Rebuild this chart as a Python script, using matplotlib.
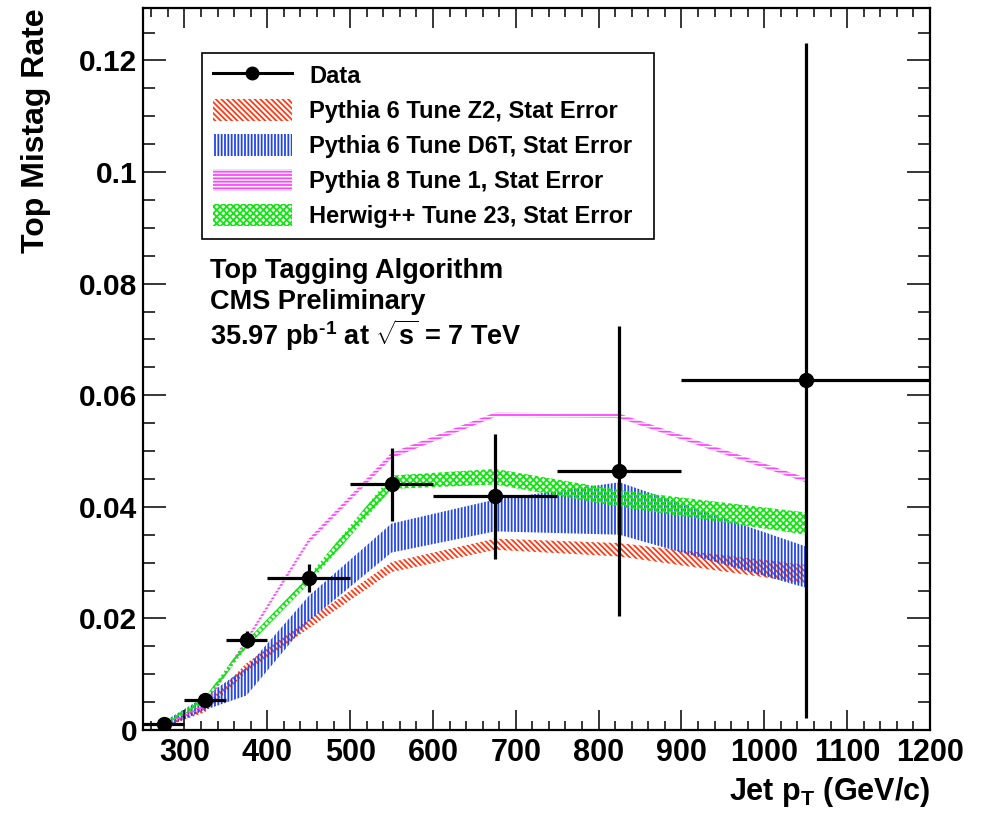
import numpy as np
import matplotlib
matplotlib.use("Agg")
import matplotlib.pyplot as plt
from matplotlib.patches import Patch
from matplotlib.lines import Line2D
from matplotlib.ticker import MultipleLocator, FuncFormatter

plt.rcParams['font.family'] = ['Liberation Sans', 'DejaVu Sans']
plt.rcParams['font.weight'] = 'bold'
plt.rcParams['axes.labelweight'] = 'bold'
plt.rcParams['mathtext.fontset'] = 'custom'
plt.rcParams['mathtext.rm'] = 'Liberation Sans:bold'
plt.rcParams['mathtext.it'] = 'Liberation Sans:bold'
plt.rcParams['mathtext.bf'] = 'Liberation Sans:bold'
plt.rcParams['hatch.linewidth'] = 1.3

# jet pT bins (GeV/c)
pt = np.array([275, 325, 375, 450, 550, 675, 825, 1050])
pt_lo = np.array([250, 300, 350, 400, 500, 600, 750, 900])
pt_hi = np.array([300, 350, 400, 500, 600, 750, 900, 1200])

# measured mistag rate
rate = np.array([0.0011, 0.0054, 0.0162, 0.0273, 0.0440, 0.0419, 0.0464, 0.0627])
rate_err = np.array([0.0003, 0.0006, 0.0015, 0.0025, 0.0065, 0.0112, 0.0260, 0.0605])

# MC predictions, stat. error band (low / high edge at bin centre)
z2_lo = np.array([0.0005, 0.0032, 0.0104, 0.0182, 0.0283, 0.0323, 0.0311, 0.0263])
z2_hi = np.array([0.0011, 0.0044, 0.0120, 0.0198, 0.0301, 0.0343, 0.0335, 0.0296])
d6t_lo = np.array([0.0003, 0.0036, 0.0062, 0.0195, 0.0318, 0.0356, 0.0350, 0.0255])
d6t_hi = np.array([0.0015, 0.0060, 0.0112, 0.0240, 0.0370, 0.0413, 0.0444, 0.0329])
py8_lo = np.array([0.0008, 0.0040, 0.0157, 0.0335, 0.0487, 0.0561, 0.0559, 0.0444])
py8_hi = np.array([0.0012, 0.0047, 0.0165, 0.0343, 0.0497, 0.0569, 0.0567, 0.0452])
hw_lo = np.array([0.0008, 0.0049, 0.0148, 0.0262, 0.0432, 0.0440, 0.0400, 0.0350])
hw_hi = np.array([0.0014, 0.0059, 0.0160, 0.0276, 0.0456, 0.0468, 0.0430, 0.0390])

bands = [
    (z2_lo, z2_hi, '#ff3a16', '\\' * 6, 'Pythia 6 Tune Z2, Stat Error'),
    (d6t_lo, d6t_hi, '#2244ee', '|' * 5, 'Pythia 6 Tune D6T, Stat Error'),
    (py8_lo, py8_hi, '#ff44ff', '-' * 5, 'Pythia 8 Tune 1, Stat Error'),
    (hw_lo, hw_hi, '#11e611', 'x' * 5, 'Herwig++ Tune 23, Stat Error'),
]

fig = plt.figure(figsize=(9.84, 8.17), dpi=100)
ax = fig.add_axes([143 / 984, 87 / 817, 787 / 984, 722 / 817])

handles = [Line2D([], [], color='black', lw=2.2, marker='o', markersize=9)]
labels = ['Data']
for lo, hi, col, hatch, name in bands:
    ax.fill_between(pt, lo, hi, facecolor='none', edgecolor=col,
                    hatch=hatch, linewidth=0)
    handles.append(Patch(facecolor='none', edgecolor=col, hatch=hatch, linewidth=0))
    labels.append(name)

ax.errorbar(pt, rate, xerr=[pt - pt_lo, pt_hi - pt], yerr=rate_err,
            fmt='o', color='black', markersize=10, elinewidth=2.3,
            capsize=0, zorder=5)

ax.set_xlim(250, 1200)
ax.set_ylim(0, 0.1294)

ax.xaxis.set_major_locator(MultipleLocator(100))
ax.xaxis.set_minor_locator(MultipleLocator(20))
ax.yaxis.set_major_locator(MultipleLocator(0.02))
ax.yaxis.set_minor_locator(MultipleLocator(0.005))
ax.yaxis.set_major_formatter(FuncFormatter(lambda v, p: '%g' % round(v, 4)))

ax.tick_params(axis='both', which='both', direction='in', top=True, right=True, width=1.1)
ax.tick_params(axis='x', which='major', length=14.5, labelsize=22, pad=6)
ax.tick_params(axis='x', which='minor', length=6.5)
ax.tick_params(axis='y', which='major', length=16.5, labelsize=21.5, pad=4)
ax.tick_params(axis='y', which='minor', length=8.5)
for s in ax.spines.values():
    s.set_linewidth(1.6)

ax.set_ylabel('Top Mistag Rate', fontsize=23, loc='top')
ax.yaxis.set_label_coords(-0.117, 1.0)
ax.set_xlabel(r'Jet p$_{\mathrm{T}}$ (GeV/c)', fontsize=22, loc='right')
ax.xaxis.set_label_coords(1.0, -0.062)

ax.text(0.085, 0.626, 'Top Tagging Algorithm', transform=ax.transAxes, fontsize=19.5)
ax.text(0.085, 0.583, 'CMS Preliminary', transform=ax.transAxes, fontsize=19.5)
ax.text(0.085, 0.533, r'35.97 pb$^{\text{-1}}$ at $\sqrt{s}$ = 7 TeV',
        transform=ax.transAxes, fontsize=19.5)

leg = ax.legend(handles, labels, loc='upper left',
                bbox_to_anchor=(0.075, 0.6815, 0.5743, 0.2562), mode='expand',
                borderaxespad=0, fontsize=17, handlelength=3.35, handleheight=1.05,
                handletextpad=0.75, labelspacing=0.47, borderpad=0.45,
                fancybox=False, framealpha=1, edgecolor='black')
leg.get_frame().set_linewidth(1.2)

fig.savefig('out.png', dpi=100)
